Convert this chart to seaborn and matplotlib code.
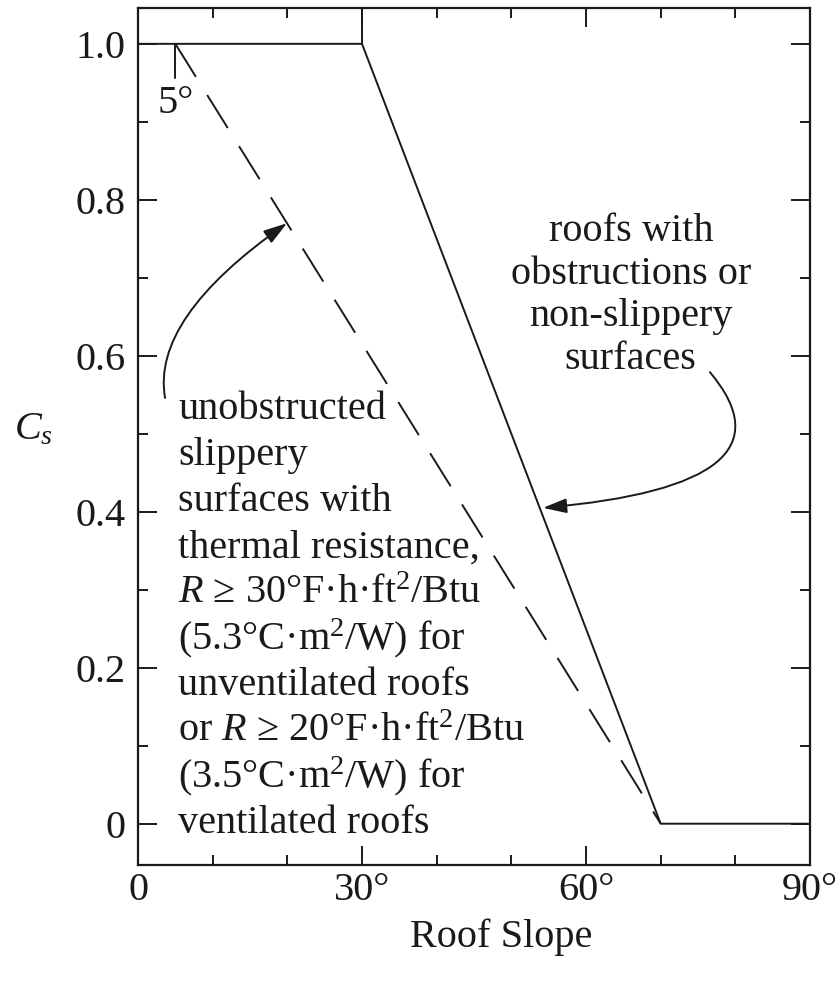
import numpy as np
import pandas as pd
import matplotlib
matplotlib.use("Agg")
import matplotlib.pyplot as plt
import seaborn as sns
from matplotlib.ticker import MultipleLocator, FixedLocator

# roof slope factor curves (degrees, Cs)
solid_x = [0, 30, 70, 90]
solid_y = [1.0, 1.0, 0.0, 0.0]
dashed_x = [5, 70]
dashed_y = [1.0, 0.0]

xticks = [0, 30, 60, 90]
xtick_labels = ["0", "30°", "60°", "90°"]
yticks = [0, 0.2, 0.4, 0.6, 0.8, 1.0]
ytick_labels = ["0", "0.2", "0.4", "0.6", "0.8", "1.0"]

left_lines = ["unobstructed", "slippery", "surfaces with", "thermal resistance,",
              "$R$ ≥ 30°F·h·ft$^2$/Btu", "(5.3°C·m$^2$/W) for", "unventilated roofs",
              "or $R$ ≥ 20°F·h·ft$^2$/Btu", "(3.5°C·m$^2$/W) for", "ventilated roofs"]
right_text = "roofs with\nobstructions or\nnon-slippery\nsurfaces"

sns.set_theme(style="ticks")
plt.rcParams["font.family"] = ["Liberation Serif", "DejaVu Serif"]
plt.rcParams["mathtext.fontset"] = "custom"
plt.rcParams["mathtext.rm"] = "Liberation Serif"
plt.rcParams["mathtext.it"] = "Liberation Serif:italic"
plt.rcParams["mathtext.bf"] = "Liberation Serif:bold"

FS = 29
INK = "#1a1a1a"
fig = plt.figure(figsize=(8.4, 9.83), dpi=100)
ax = fig.add_axes([0.1643, 0.12, 0.8, 0.8719])

solid = pd.DataFrame({"slope": solid_x, "cs": solid_y})
dashed = pd.DataFrame({"slope": dashed_x, "cs": dashed_y})
sns.lineplot(data=solid, x="slope", y="cs", sort=False, color=INK, lw=1.4, ax=ax)
sns.lineplot(data=dashed, x="slope", y="cs", sort=False, color=INK, lw=1.4,
             linestyle=(0, (20, 11)), ax=ax)

# small marks: 5 deg start and 30 deg break
ax.plot([5, 5], [1.0, 0.956], color=INK, lw=1.4)
ax.plot([30, 30], [1.0, 1.1], color=INK, lw=1.4, clip_on=True)
ax.text(5.1, 0.924, "5°", fontsize=FS, ha="center", va="center", color=INK)

ax.set_xlim(0, 90)
ax.set_ylim(-0.053, 1.046)
ax.xaxis.set_major_locator(FixedLocator(xticks))
ax.set_xticklabels(xtick_labels)
ax.xaxis.set_minor_locator(MultipleLocator(10))
ax.yaxis.set_major_locator(FixedLocator(yticks))
ax.set_yticklabels(ytick_labels)
ax.yaxis.set_minor_locator(MultipleLocator(0.1))
ax.tick_params(which="both", direction="in", top=True, right=True, colors=INK,
               labelsize=FS, width=1.4)
ax.tick_params(which="major", length=14)
ax.tick_params(which="minor", length=7)
ax.tick_params(axis="y", pad=9)
ax.tick_params(axis="x", pad=5)
for s in ax.spines.values():
    s.set_linewidth(1.6)
    s.set_color(INK)

ax.set_xlabel("Roof Slope", fontsize=FS, color=INK)
ax.xaxis.set_label_coords(0.54, -0.084)
ax.xaxis.label.set_va("center")
ax.set_ylabel("$C_s$", fontsize=FS, rotation=0, color=INK)
ax.yaxis.set_label_coords(-0.155, 0.508)
ax.yaxis.label.set_va("center")
ax.yaxis.label.set_ha("center")

# left annotation, evenly spaced baselines
for i, line in enumerate(left_lines):
    ax.text(5.36, 0.5186 - 0.059 * i, line, fontsize=FS, ha="left", va="baseline",
            color=INK)
ax.text(66.0, 0.783, right_text, fontsize=FS, ha="center", va="top",
        multialignment="center", color=INK, linespacing=1.2)

arrow = dict(arrowstyle="-|>,head_length=0.9,head_width=0.28", mutation_scale=16,
             color=INK, lw=1.4, shrinkA=0, shrinkB=0)
ax.annotate("", xy=(19.95, 0.770), xytext=(3.62, 0.546),
            arrowprops=dict(arrow, connectionstyle="angle3,angleA=100,angleB=35"))
ax.annotate("", xy=(54.24, 0.405), xytext=(76.6, 0.579),
            arrowprops=dict(arrow, connectionstyle="angle3,angleA=-50,angleB=5"))

fig.savefig("out.png", dpi=100, facecolor="white")
